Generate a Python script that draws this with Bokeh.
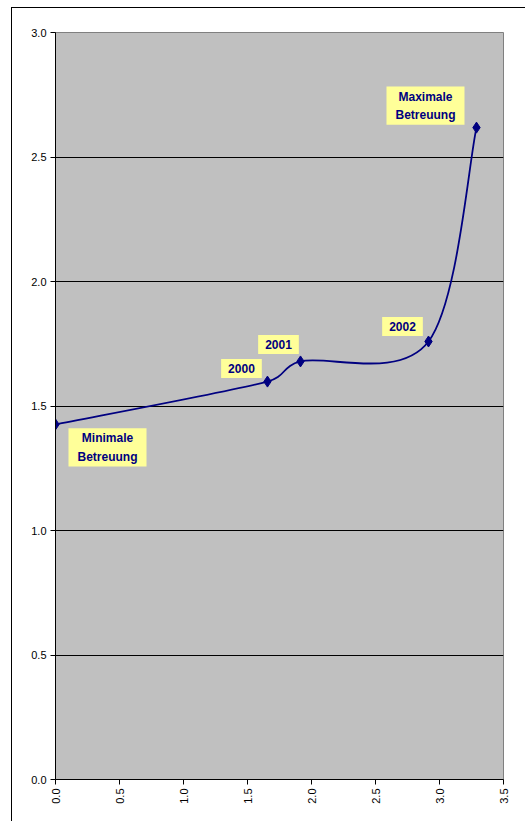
import math
from bokeh.plotting import figure
from bokeh.models import Label, FixedTicker, PrintfTickFormatter
from bokeh.embed import file_html
from bokeh.resources import INLINE

# Data
x_vals = [0.0, 1.656, 1.914, 2.914, 3.289]
y_vals = [1.426, 1.598, 1.679, 1.759, 2.618]
point_labels = ["Minimale\nBetreuung", "2000", "2001", "2002", "Maximale\nBetreuung"]
x_ticks = [0.0, 0.5, 1.0, 1.5, 2.0, 2.5, 3.0, 3.5]
y_ticks = [0.0, 0.5, 1.0, 1.5, 2.0, 2.5, 3.0]

# label placement offsets in screen pixels (style)
label_dx = [52, -26, -22, -26, -51]
label_dy = [-23, 13, 17, 15, 22]

NAVY = "#000080"
FONT = "Liberation Sans"

W, H = 513, 813
ML, MR, MT, MB = 43, 22, 24, 42
X0, X1, Y0, Y1 = 0.0, 3.5, 0.0, 3.0

p = figure(width=W, height=H, x_range=(X0, X1), y_range=(Y0, Y1),
           output_backend="svg", toolbar_location=None,
           margin=(8, 0, 0, 12),
           min_border_left=ML, min_border_top=MT, min_border_bottom=MB, min_border_right=MR,
           background_fill_color="#C0C0C0", border_fill_color="white",
           outline_line_color="#808080", outline_line_width=1,
           styles={"outline": "1px solid black"})

p.xgrid.grid_line_color = None
p.ygrid.grid_line_color = "black"
p.ygrid.grid_line_width = 1
p.ygrid.ticker = FixedTicker(ticks=y_ticks)

for ax in (p.xaxis, p.yaxis):
    ax.axis_line_color = "black"
    ax.major_tick_line_color = "black"
    ax.major_tick_in = 0
    ax.major_tick_out = 5
    ax.minor_tick_line_color = None
    ax.major_label_text_font = FONT
    ax.major_label_text_font_size = "11px"
    ax.major_label_text_color = "black"
    ax.formatter = PrintfTickFormatter(format="%.1f")
    ax.major_label_standoff = 4

p.xaxis.ticker = FixedTicker(ticks=x_ticks)
p.yaxis.ticker = FixedTicker(ticks=y_ticks)
p.xaxis.major_label_orientation = math.pi / 2

# Smoothed line: Excel-like bezier smoothing computed in screen-space proportions
sx = (W - ML - MR) / (X1 - X0)
sy = (H - MT - MB) / (Y1 - Y0)
pts = [(x * sx, y * sy) for x, y in zip(x_vals, y_vals)]
n = len(pts)

def dist(a, b):
    return math.hypot(a[0] - b[0], a[1] - b[1])

bx0, by0, bx1, by1, cx0, cy0, cx1, cy1 = [], [], [], [], [], [], [], []
for i in range(n - 1):
    p0 = pts[i - 1] if i > 0 else pts[i]
    p1 = pts[i]
    p2 = pts[i + 1]
    p3 = pts[i + 2] if i + 2 < n else pts[i + 1]
    d12 = dist(p1, p2)
    t1 = (p2[0] - p0[0], p2[1] - p0[1])
    t2 = (p3[0] - p1[0], p3[1] - p1[1])
    l1 = math.hypot(*t1)
    l2 = math.hypot(*t2)
    f1 = 1 / 6 if l1 / 6 <= d12 / 2 or l1 == 0 else (d12 / 2) / l1
    f2 = 1 / 6 if l2 / 6 <= d12 / 2 or l2 == 0 else (d12 / 2) / l2
    c0 = (p1[0] + t1[0] * f1, p1[1] + t1[1] * f1)
    c1 = (p2[0] - t2[0] * f2, p2[1] - t2[1] * f2)
    bx0.append(p1[0] / sx); by0.append(p1[1] / sy)
    bx1.append(p2[0] / sx); by1.append(p2[1] / sy)
    cx0.append(c0[0] / sx); cy0.append(c0[1] / sy)
    cx1.append(c1[0] / sx); cy1.append(c1[1] / sy)

p.bezier(x0=bx0, y0=by0, x1=bx1, y1=by1, cx0=cx0, cy0=cy0, cx1=cx1, cy1=cy1,
         line_color=NAVY, line_width=1.8)

p.scatter(x_vals, y_vals, marker="diamond", size=11, color=NAVY)

for xv, yv, txt, dx, dy in zip(x_vals, y_vals, point_labels, label_dx, label_dy):
    multi = "\n" in txt
    p.add_layout(Label(x=xv, y=yv, x_offset=dx, y_offset=dy, text=txt,
                       text_align="center", text_baseline="middle",
                       text_font=FONT, text_font_size="12px", text_font_style="bold",
                       text_line_height=1.3 if multi else 1.2,
                       text_color=NAVY, background_fill_color="#FFFF99",
                       padding=(9, 3) if multi else (7, 5)))

open("out.html", "w").write(file_html(p, INLINE))
